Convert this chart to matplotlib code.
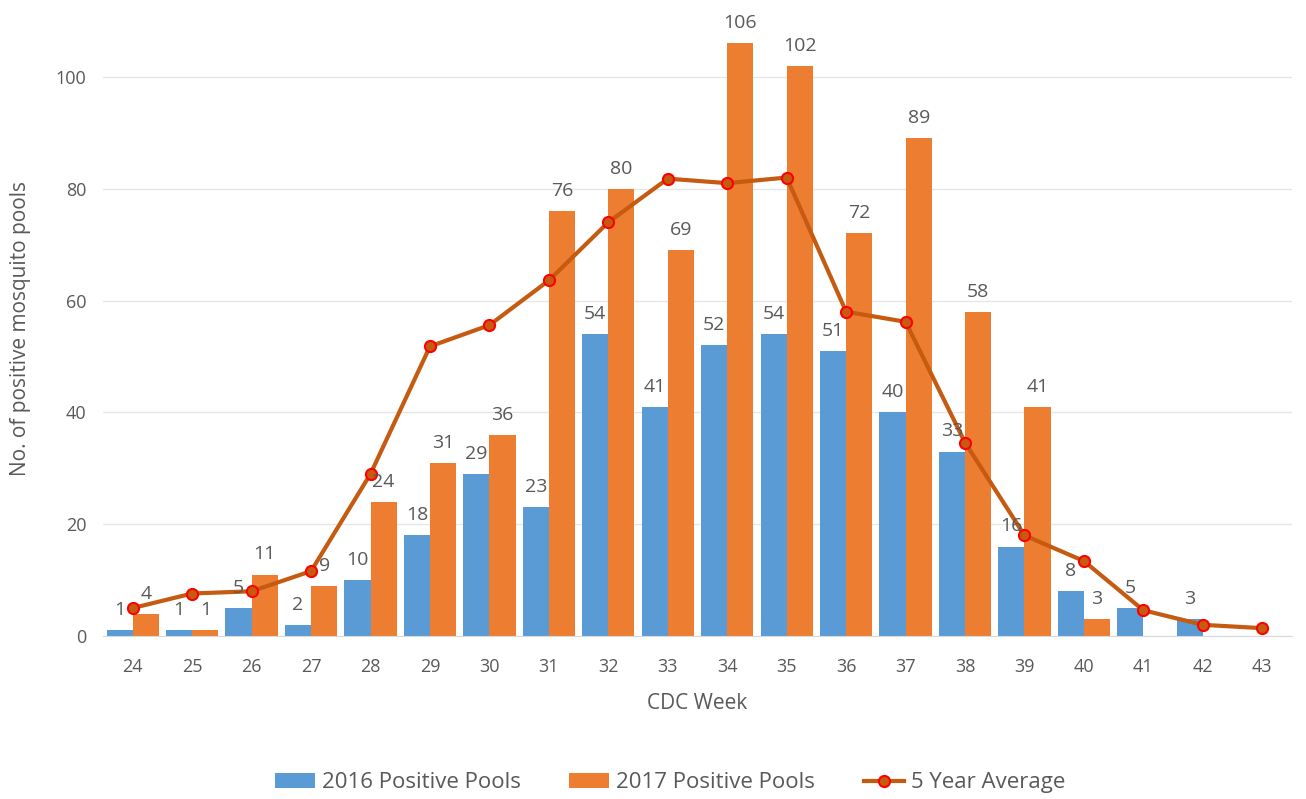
import numpy as np
import matplotlib
matplotlib.use('Agg')
import matplotlib.pyplot as plt

weeks = [24, 25, 26, 27, 28, 29, 30, 31, 32, 33, 34, 35, 36, 37, 38, 39, 40, 41, 42, 43]
pools_2016 = [1, 1, 5, 2, 10, 18, 29, 23, 54, 41, 52, 54, 51, 40, 33, 16, 8, 5, 3, np.nan]
pools_2017 = [4, 1, 11, 9, 24, 31, 36, 76, 80, 69, 106, 102, 72, 89, 58, 41, 3, np.nan, np.nan, np.nan]
avg_5yr = [5, 7.6, 8, 11.6, 29, 51.8, 55.6, 63.6, 74, 81.8, 81, 82, 58, 56.2, 34.6, 18, 13.4, 4.6, 2, 1.4]

plt.rcParams['font.family'] = ['Open Sans', 'DejaVu Sans']
text_color = '#595959'

fig = plt.figure(figsize=(13.06, 7.99), dpi=100)
ax = fig.add_axes([103 / 1306, 163 / 799, 1189 / 1306, 615 / 799])

x = np.arange(len(weeks))
w = 0.44
ax.bar(x - w / 2, pools_2016, w, color='#5B9BD5', label='2016 Positive Pools', zorder=2)
ax.bar(x + w / 2, pools_2017, w, color='#ED7D31', label='2017 Positive Pools', zorder=2)
ax.plot(x, avg_5yr, color='#C55A11', lw=3, marker='o', ms=8, mfc='#C55A11',
        mec='#FF0000', mew=1.5, label='5 Year Average', zorder=4)

for xs, vals in ((x - w / 2, pools_2016), (x + w / 2, pools_2017)):
    for xi, v in zip(xs, vals):
        if not np.isnan(v):
            ax.annotate(str(int(v)), (xi, v), xytext=(0, 8), textcoords='offset points',
                        ha='center', va='bottom', fontsize=14, color=text_color, zorder=5)

ax.set_xlim(-0.5, len(weeks) - 0.5)
ax.set_ylim(0, 110)
ax.set_yticks(range(0, 101, 20))
ax.set_xticks(x)
ax.set_xticklabels([str(wk) for wk in weeks])
ax.tick_params(axis='both', length=0, labelsize=13, labelcolor=text_color)
ax.tick_params(axis='x', pad=16)
ax.tick_params(axis='y', pad=12)
ax.yaxis.grid(True, color='#E6E6E6', lw=1, zorder=0)
ax.set_axisbelow(True)
for s in ('top', 'right', 'left'):
    ax.spines[s].set_visible(False)
ax.spines['bottom'].set_color('#D9D9D9')

ax.set_xlabel('CDC Week', fontsize=15, color=text_color, labelpad=12)
ax.set_ylabel('No. of positive mosquito pools', fontsize=15, color=text_color, labelpad=18)

handles, labels = ax.get_legend_handles_labels()
order = [1, 2, 0]
fig.legend([handles[i] for i in order], [labels[i] for i in order],
           loc='lower center', bbox_to_anchor=(0.513, -0.018), ncol=3, frameon=False,
           fontsize=16, labelcolor=text_color, handlelength=1.8, handletextpad=0.3,
           columnspacing=2.2)

fig.savefig('out.png', dpi=100)
